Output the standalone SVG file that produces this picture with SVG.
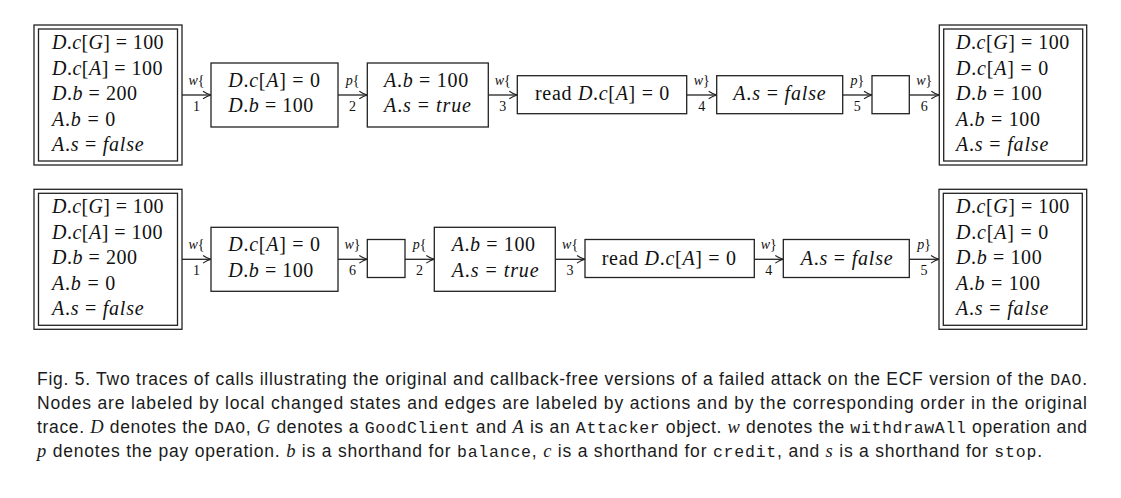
<svg xmlns="http://www.w3.org/2000/svg" width="1121" height="498" viewBox="0 0 1121 498">
<style>
.box{fill:#fff;stroke:#222;stroke-width:1.3}
.t{font-family:"Liberation Serif",serif;font-size:20px;fill:#111}
.i{font-style:italic}
.lbl{font-family:"Liberation Serif",serif;font-size:14px;fill:#111;text-anchor:middle}
.edge{stroke:#222;stroke-width:1.3;fill:none;marker-end:url(#arr)}
.cap{font-family:"Liberation Sans",sans-serif;font-size:17.5px;fill:#1a1a1a}
.m{font-family:"Liberation Mono",monospace;font-size:16.5px}
.mi{font-family:"Liberation Serif",serif;font-style:italic;font-size:18.5px}
</style>
<defs>
<marker id="arr" markerUnits="userSpaceOnUse" markerWidth="12" markerHeight="12" refX="9" refY="5" orient="auto">
<path d="M1,1.2 Q5,4 9,5 Q5,6 1,8.8" fill="none" stroke="#222" stroke-width="1.1"/>
</marker>
</defs>

<g id="connectors">
<line class="edge" x1="182" y1="95" x2="211" y2="95"/>
<line class="edge" x1="338" y1="95" x2="367.3" y2="95"/>
<line class="edge" x1="488.3" y1="95" x2="517.3" y2="95"/>
<line class="edge" x1="686.7" y1="95" x2="716.7" y2="95"/>
<line class="edge" x1="842.7" y1="95" x2="872" y2="95"/>
<line class="edge" x1="909.3" y1="95" x2="939.3" y2="95"/>
<text class="lbl" x="196.5" y="84.5"><tspan class="i">w</tspan>{</text><text class="lbl" x="196.5" y="110.7">1</text>
<text class="lbl" x="352.5" y="84.5"><tspan class="i">p</tspan>{</text><text class="lbl" x="352.5" y="110.7">2</text>
<text class="lbl" x="502.8" y="84.5"><tspan class="i">w</tspan>{</text><text class="lbl" x="502.8" y="110.7">3</text>
<text class="lbl" x="701.7" y="84.5"><tspan class="i">w</tspan>}</text><text class="lbl" x="701.7" y="110.7">4</text>
<text class="lbl" x="857.3" y="84.5"><tspan class="i">p</tspan>}</text><text class="lbl" x="857.3" y="110.7">5</text>
<text class="lbl" x="924.3" y="84.5"><tspan class="i">w</tspan>}</text><text class="lbl" x="924.3" y="110.7">6</text>

<line class="edge" x1="182" y1="259.3" x2="211" y2="259.3"/>
<line class="edge" x1="338" y1="259.3" x2="367.3" y2="259.3"/>
<line class="edge" x1="405" y1="259.3" x2="434.3" y2="259.3"/>
<line class="edge" x1="555.3" y1="259.3" x2="585" y2="259.3"/>
<line class="edge" x1="754.3" y1="259.3" x2="783.3" y2="259.3"/>
<line class="edge" x1="909.3" y1="259.3" x2="939" y2="259.3"/>
<text class="lbl" x="196.5" y="248.8"><tspan class="i">w</tspan>{</text><text class="lbl" x="196.5" y="275">1</text>
<text class="lbl" x="352.5" y="248.8"><tspan class="i">w</tspan>}</text><text class="lbl" x="352.5" y="275">6</text>
<text class="lbl" x="419.6" y="248.8"><tspan class="i">p</tspan>{</text><text class="lbl" x="419.6" y="275">2</text>
<text class="lbl" x="570.1" y="248.8"><tspan class="i">w</tspan>{</text><text class="lbl" x="570.1" y="275">3</text>
<text class="lbl" x="768.8" y="248.8"><tspan class="i">w</tspan>}</text><text class="lbl" x="768.8" y="275">4</text>
<text class="lbl" x="924.1" y="248.8"><tspan class="i">p</tspan>}</text><text class="lbl" x="924.1" y="275">5</text>
</g>

<!-- Top row -->
<g id="t1">
<rect class="box" x="34" y="25" width="148" height="140"/>
<rect class="box" x="38.5" y="29" width="139" height="132"/>
<text class="t" x="52" y="49" textLength="111.6"><tspan class="i">D</tspan>.<tspan class="i">c</tspan>[<tspan class="i">G</tspan>] = 100</text>
<text class="t" x="52" y="74.5" textLength="110.6"><tspan class="i">D</tspan>.<tspan class="i">c</tspan>[<tspan class="i">A</tspan>] = 100</text>
<text class="t" x="52" y="100" textLength="85"><tspan class="i">D</tspan>.<tspan class="i">b</tspan> = 200</text>
<text class="t" x="52" y="125.5" textLength="63.3"><tspan class="i">A</tspan>.<tspan class="i">b</tspan> = 0</text>
<text class="t" x="52" y="151" textLength="91.6"><tspan class="i">A</tspan>.<tspan class="i">s</tspan> = <tspan class="i">false</tspan></text>
</g>
<g id="t2">
<rect class="box" x="211" y="63" width="127" height="64"/>
<text class="t" x="228.3" y="86.7" textLength="91.7"><tspan class="i">D</tspan>.<tspan class="i">c</tspan>[<tspan class="i">A</tspan>] = 0</text>
<text class="t" x="228.3" y="112.3" textLength="85"><tspan class="i">D</tspan>.<tspan class="i">b</tspan> = 100</text>
</g>
<g id="t3">
<rect class="box" x="367.3" y="63" width="121" height="64"/>
<text class="t" x="384" y="86.7" textLength="84.3"><tspan class="i">A</tspan>.<tspan class="i">b</tspan> = 100</text>
<text class="t" x="384" y="112.3" textLength="87"><tspan class="i">A</tspan>.<tspan class="i">s</tspan> = <tspan class="i">true</tspan></text>
</g>
<g id="t4">
<rect class="box" x="517.3" y="75.7" width="169.4" height="38"/>
<text class="t" x="535" y="100.3" textLength="134.3">read <tspan class="i">D</tspan>.<tspan class="i">c</tspan>[<tspan class="i">A</tspan>] = 0</text>
</g>
<g id="t5">
<rect class="box" x="716.7" y="75.7" width="126" height="38"/>
<text class="t" x="733.3" y="100.3" textLength="92.4"><tspan class="i">A</tspan>.<tspan class="i">s</tspan> = <tspan class="i">false</tspan></text>
</g>
<g id="t6">
<rect class="box" x="872" y="75.7" width="37.3" height="38"/>
</g>
<g id="t7">
<rect class="box" x="939.3" y="25" width="147.4" height="140"/>
<rect class="box" x="943.7" y="29" width="139" height="132"/>
<text class="t" x="956" y="49" textLength="113.3"><tspan class="i">D</tspan>.<tspan class="i">c</tspan>[<tspan class="i">G</tspan>] = 100</text>
<text class="t" x="956" y="74.5" textLength="92.3"><tspan class="i">D</tspan>.<tspan class="i">c</tspan>[<tspan class="i">A</tspan>] = 0</text>
<text class="t" x="956" y="100" textLength="85.7"><tspan class="i">D</tspan>.<tspan class="i">b</tspan> = 100</text>
<text class="t" x="956" y="125.5" textLength="84"><tspan class="i">A</tspan>.<tspan class="i">b</tspan> = 100</text>
<text class="t" x="956" y="151" textLength="92.3"><tspan class="i">A</tspan>.<tspan class="i">s</tspan> = <tspan class="i">false</tspan></text>
</g>

<!-- Bottom row -->
<g id="b1">
<rect class="box" x="34" y="189.3" width="148" height="140"/>
<rect class="box" x="38.5" y="193.3" width="139" height="132"/>
<text class="t" x="52" y="213.3" textLength="111.6"><tspan class="i">D</tspan>.<tspan class="i">c</tspan>[<tspan class="i">G</tspan>] = 100</text>
<text class="t" x="52" y="238.8" textLength="110.6"><tspan class="i">D</tspan>.<tspan class="i">c</tspan>[<tspan class="i">A</tspan>] = 100</text>
<text class="t" x="52" y="264.3" textLength="85"><tspan class="i">D</tspan>.<tspan class="i">b</tspan> = 200</text>
<text class="t" x="52" y="289.8" textLength="63.3"><tspan class="i">A</tspan>.<tspan class="i">b</tspan> = 0</text>
<text class="t" x="52" y="315.3" textLength="91.6"><tspan class="i">A</tspan>.<tspan class="i">s</tspan> = <tspan class="i">false</tspan></text>
</g>
<g id="b2">
<rect class="box" x="211" y="227.3" width="127" height="64"/>
<text class="t" x="228.3" y="251" textLength="91.7"><tspan class="i">D</tspan>.<tspan class="i">c</tspan>[<tspan class="i">A</tspan>] = 0</text>
<text class="t" x="228.3" y="276.6" textLength="85"><tspan class="i">D</tspan>.<tspan class="i">b</tspan> = 100</text>
</g>
<g id="b3">
<rect class="box" x="367.3" y="239.5" width="37.7" height="38"/>
</g>
<g id="b4">
<rect class="box" x="434.3" y="227.3" width="121" height="64"/>
<text class="t" x="451.7" y="251" textLength="83.3"><tspan class="i">A</tspan>.<tspan class="i">b</tspan> = 100</text>
<text class="t" x="451.7" y="276.6" textLength="87"><tspan class="i">A</tspan>.<tspan class="i">s</tspan> = <tspan class="i">true</tspan></text>
</g>
<g id="b5">
<rect class="box" x="585" y="239.5" width="169.3" height="38"/>
<text class="t" x="601.7" y="264.6" textLength="134.3">read <tspan class="i">D</tspan>.<tspan class="i">c</tspan>[<tspan class="i">A</tspan>] = 0</text>
</g>
<g id="b6">
<rect class="box" x="783.3" y="239.5" width="126" height="38"/>
<text class="t" x="800.7" y="264.6" textLength="92"><tspan class="i">A</tspan>.<tspan class="i">s</tspan> = <tspan class="i">false</tspan></text>
</g>
<g id="b7">
<rect class="box" x="939" y="189.3" width="147.7" height="140"/>
<rect class="box" x="943.3" y="193.3" width="139" height="132"/>
<text class="t" x="956" y="213.3" textLength="113.3"><tspan class="i">D</tspan>.<tspan class="i">c</tspan>[<tspan class="i">G</tspan>] = 100</text>
<text class="t" x="956" y="238.8" textLength="92.3"><tspan class="i">D</tspan>.<tspan class="i">c</tspan>[<tspan class="i">A</tspan>] = 0</text>
<text class="t" x="956" y="264.3" textLength="85.7"><tspan class="i">D</tspan>.<tspan class="i">b</tspan> = 100</text>
<text class="t" x="956" y="289.8" textLength="84"><tspan class="i">A</tspan>.<tspan class="i">b</tspan> = 100</text>
<text class="t" x="956" y="315.3" textLength="92.3"><tspan class="i">A</tspan>.<tspan class="i">s</tspan> = <tspan class="i">false</tspan></text>
</g>

<g id="caption">
<text class="cap" x="37" y="385" textLength="1050">Fig. 5.  Two traces of calls illustrating the original and callback-free versions of a failed attack on the ECF version of the <tspan class="m">DAO</tspan>.</text>
<text class="cap" x="37" y="409" textLength="1050">Nodes are labeled by local changed states and edges are labeled by actions and by the corresponding order in the original</text>
<text class="cap" x="37" y="433" textLength="1050">trace. <tspan class="mi">D</tspan> denotes the <tspan class="m">DAO</tspan>, <tspan class="mi">G</tspan> denotes a <tspan class="m">GoodClient</tspan> and <tspan class="mi">A</tspan> is an <tspan class="m">Attacker</tspan> object. <tspan class="mi">w</tspan> denotes the <tspan class="m">withdrawAll</tspan> operation and</text>
<text class="cap" x="37" y="457" textLength="1005"><tspan class="mi">p</tspan> denotes the pay operation. <tspan class="mi">b</tspan> is a shorthand for <tspan class="m">balance</tspan>, <tspan class="mi">c</tspan> is a shorthand for <tspan class="m">credit</tspan>, and <tspan class="mi">s</tspan> is a shorthand for <tspan class="m">stop</tspan>.</text>
</g>
</svg>
